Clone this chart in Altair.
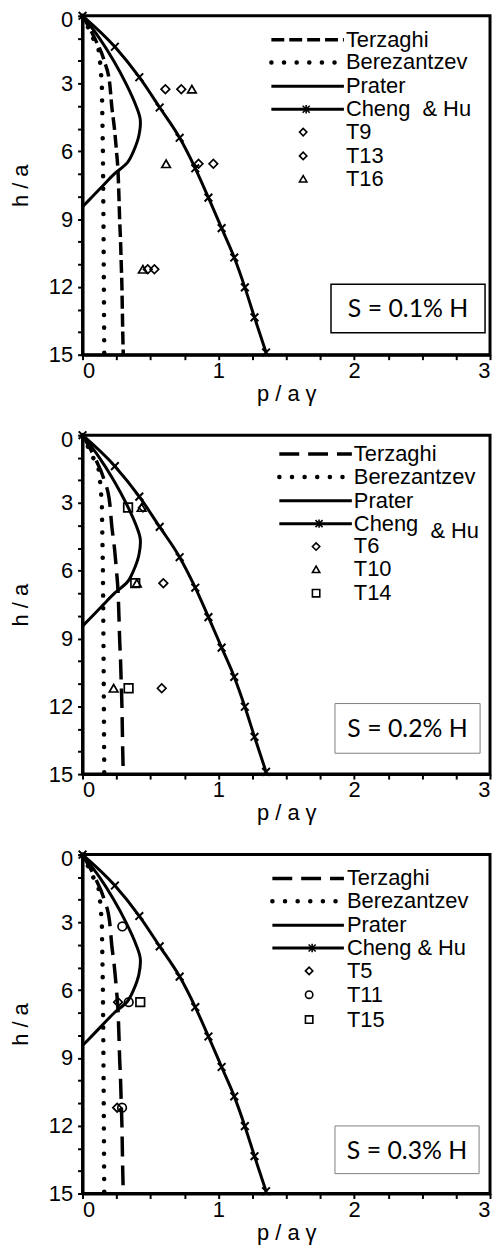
import altair as alt
import pandas as pd

FONT = "Liberation Sans"

# ---- model curves (shared by all three panels) ----
terz_h = [0, 1, 2, 3, 4, 5, 6, 7, 8, 9, 10, 11, 12, 13, 14, 15]
terz_p = [0, 0.09, 0.16, 0.20, 0.215, 0.235, 0.25, 0.262, 0.268, 0.273, 0.28, 0.285, 0.29, 0.293, 0.296, 0.30]

bere_h = [0, 1.5, 2.1, 3, 6, 9, 12, 15]
bere_p = [0, 0.118, 0.13, 0.142, 0.15, 0.154, 0.157, 0.16]

prat_h = [0, 1, 2, 3, 4, 4.6, 5.3, 6, 6.5, 7, 7.5, 8, 8.45]
prat_p = [0, 0.125, 0.23, 0.32, 0.395, 0.425, 0.415, 0.375, 0.33, 0.234, 0.153, 0.073, 0.0]

cheng_h = [0, 1.37, 2.72, 4.06, 5.40, 6.75, 8.05, 9.40, 10.70, 12.02, 13.35, 14.9]
cheng_p = [0, 0.238, 0.418, 0.568, 0.715, 0.83, 0.927, 1.024, 1.117, 1.195, 1.266, 1.351]

# ---- test data per panel ----
p1_tests = ["T9", "T9", "T9", "T13", "T13", "T13", "T16", "T16", "T16"]
p1_shape = ["diamond"] * 6 + ["triangle-up"] * 3
p1_h = [3.25, 6.55, 11.22, 3.25, 6.55, 11.22, 3.25, 6.55, 11.22]
p1_p = [0.61, 0.854, 0.48, 0.727, 0.963, 0.529, 0.805, 0.615, 0.444]

p2_tests = ["T6", "T6", "T6", "T10", "T10", "T10", "T14", "T14", "T14"]
p2_shape = ["diamond"] * 3 + ["triangle-up"] * 3 + ["square"] * 3
p2_h = [3.2, 6.55, 11.2, 3.2, 6.55, 11.2, 3.2, 6.55, 11.2]
p2_p = [0.445, 0.595, 0.583, 0.435, 0.40, 0.229, 0.335, 0.388, 0.339]

p3_tests = ["T5", "T5", "T11", "T11", "T11", "T15"]
p3_shape = ["diamond", "diamond", "circle", "circle", "circle", "square"]
p3_h = [6.53, 11.2, 3.18, 6.53, 11.2, 6.53]
p3_p = [0.262, 0.255, 0.293, 0.34, 0.291, 0.425]

legend_names = ["Terzaghi", "Berezantzev", "Prater", "Cheng & Hu"]
box_labels = ["S = 0.1% H", "S = 0.2% H", "S = 0.3% H"]

W, H = 410, 341
LFS = 22

x_scale = alt.Scale(domain=[0, 3], nice=False, zero=False)
y_scale = alt.Scale(domain=[0, 15], reverse=True, nice=False, zero=False)

x_axis = alt.Axis(values=[i * 0.25 for i in range(13)],
                  labelExpr="datum.value % 1 === 0 ? format(datum.value, 'd') : ''",
                  tickSize=5, labelPadding=1, titlePadding=2, labelOverlap=False)
y_axis = alt.Axis(values=list(range(16)),
                  labelExpr="datum.value % 3 === 0 ? format(datum.value, 'd') : ''",
                  labelOffset={"condition": {"test": "datum.value === 0", "value": 4}, "value": 0},
                  tickSize=5, labelPadding=5, titlePadding=16, labelOverlap=False)

ASTER_X = "M-1,-1L1,1M-1,1L1,-1"
ASTER = "M-1,-1L1,1M-1,1L1,-1M0,-1.2L0,1.2"

one = pd.DataFrame({"a": [0]})


def mdf(h, p):
    return pd.DataFrame({"h": h, "p": p, "i": list(range(len(h)))})


def enc(ch):
    return ch.encode(
        x=alt.X("p:Q", scale=x_scale, axis=x_axis, title="p / a γ"),
        y=alt.Y("h:Q", scale=y_scale, axis=y_axis, title="h / a"),
        order="i:Q",
    )


def panel(tests, shapes, hs, ps, dash, leg, box, box_text, box_stroke, box_sw, cheng_label):
    layers = []
    layers.append(enc(alt.Chart(mdf(terz_h, terz_p)).mark_line(
        color="black", strokeWidth=3.5, strokeDash=dash, interpolate="monotone")))
    layers.append(enc(alt.Chart(mdf(bere_h, bere_p)).mark_line(
        color="black", strokeWidth=4.5, strokeDash=[0.1, 12.6], strokeCap="round")))
    layers.append(enc(alt.Chart(mdf(prat_h, prat_p)).mark_line(
        color="black", strokeWidth=3, interpolate="catmull-rom")))
    layers.append(enc(alt.Chart(mdf(cheng_h, cheng_p)).mark_line(
        color="black", strokeWidth=3, interpolate="monotone")))
    layers.append(enc(alt.Chart(mdf(cheng_h, cheng_p)).mark_point(
        shape=ASTER_X, size=60, color="black", strokeWidth=2, filled=False, opacity=1)))
    tdf = pd.DataFrame({"test": tests, "shape": shapes, "h": hs, "p": ps})
    layers.append(alt.Chart(tdf).mark_point(
        color="black", filled=False, strokeWidth=1.7, size=75, opacity=1).encode(
        x=alt.X("p:Q", scale=x_scale, axis=x_axis, title="p / a γ"),
        y=alt.Y("h:Q", scale=y_scale, axis=y_axis, title="h / a"),
        shape=alt.Shape("shape:N", scale=None),
    ))

    # ---- legend ----
    lx1, lx2, sx, tx, rows = leg["lx1"], leg["lx2"], leg["sx"], leg["tx"], leg["rows"]
    styles = [dict(strokeWidth=3.5, strokeDash=dash),
              dict(strokeWidth=4.5, strokeDash=[0.1, 12.6], strokeCap="round"),
              dict(strokeWidth=3),
              dict(strokeWidth=3)]
    for k, st in enumerate(styles):
        layers.append(alt.Chart(one).mark_rule(color="black", **st).encode(
            x=alt.value(lx1), x2=alt.value(lx2), y=alt.value(rows[k])))
    layers.append(alt.Chart(one).mark_point(shape=ASTER, size=50, color="black", opacity=1,
                                            strokeWidth=1.6, filled=False).encode(
        x=alt.value(sx + 3), y=alt.value(rows[3])))
    names = legend_names[:3]
    for k, nm in enumerate(names):
        layers.append(alt.Chart(one).mark_text(text=nm, align="left", baseline="middle",
                                               font=FONT, fontSize=LFS, color="black").encode(
            x=alt.value(tx), y=alt.value(rows[k])))
    for (txt, dx, dy) in cheng_label:
        layers.append(alt.Chart(one).mark_text(text=txt, align="left", baseline="middle",
                                               font=FONT, fontSize=LFS, color="black").encode(
            x=alt.value(dx), y=alt.value(dy)))
    uniq = []
    for t, s in zip(tests, shapes):
        if (t, s) not in uniq:
            uniq.append((t, s))
    for k, (t, s) in enumerate(uniq):
        layers.append(alt.Chart(one).mark_point(shape=s, size=55, color="black", opacity=1,
                                                filled=False, strokeWidth=1.6).encode(
            x=alt.value(sx), y=alt.value(rows[4 + k])))
        layers.append(alt.Chart(one).mark_text(text=t, align="left", baseline="middle",
                                               font=FONT, fontSize=LFS, color="black").encode(
            x=alt.value(tx), y=alt.value(rows[4 + k])))

    # ---- S box ----
    bx1, bx2, by1, by2 = box
    layers.append(alt.Chart(one).mark_rect(fillOpacity=0, stroke=box_stroke, strokeWidth=box_sw).encode(
        x=alt.value(bx1), x2=alt.value(bx2), y=alt.value(by1), y2=alt.value(by2)))
    layers.append(alt.Chart(one).mark_text(text=box_text, align="center", baseline="middle",
                                           font="Lato", fontSize=25, color="black").encode(
        x=alt.value((bx1 + bx2) / 2), y=alt.value((by1 + by2) / 2 + 1)))

    return alt.layer(*layers).properties(width=W, height=H)


p1 = panel(p1_tests, p1_shape, p1_h, p1_p, [13, 5],
           dict(lx1=190, lx2=263, sx=222, tx=265, rows=[24, 47, 71, 94, 117, 141, 164]),
           (250, 405, 270, 319), box_labels[0], "black", 1.5,
           [("Cheng\u00a0 & Hu", 265, 94)])
p2 = panel(p2_tests, p2_shape, p2_h, p2_p, [20, 9],
           dict(lx1=198, lx2=271, sx=235, tx=273, rows=[19, 42, 66, 89, 112, 135, 159]),
           (254, 400, 270, 320), box_labels[1], "#808080", 1,
           [("Cheng", 273, 89), ("& Hu", 350, 96)])
p3 = panel(p3_tests, p3_shape, p3_h, p3_p, [20, 9],
           dict(lx1=191, lx2=263, sx=228, tx=266, rows=[24, 47, 71, 94, 117, 141, 166]),
           (254, 399, 273, 321), box_labels[2], "#808080", 1,
           [("Cheng & Hu", 266, 94)])

chart = alt.vconcat(p1, p2, p3, spacing=18).properties(
    padding={"left": 0, "top": -7, "right": 0, "bottom": 0}
).configure_view(stroke="black", strokeWidth=3).configure_axis(
    labelFont=FONT, titleFont=FONT, labelFontSize=22, titleFontSize=22,
    titleFontWeight="normal", labelColor="black", titleColor="black",
    domainColor="black", domainWidth=3, tickColor="black", tickWidth=2, grid=False,
)

chart.save("out.html", embed_options={"renderer": "svg", "actions": False})
